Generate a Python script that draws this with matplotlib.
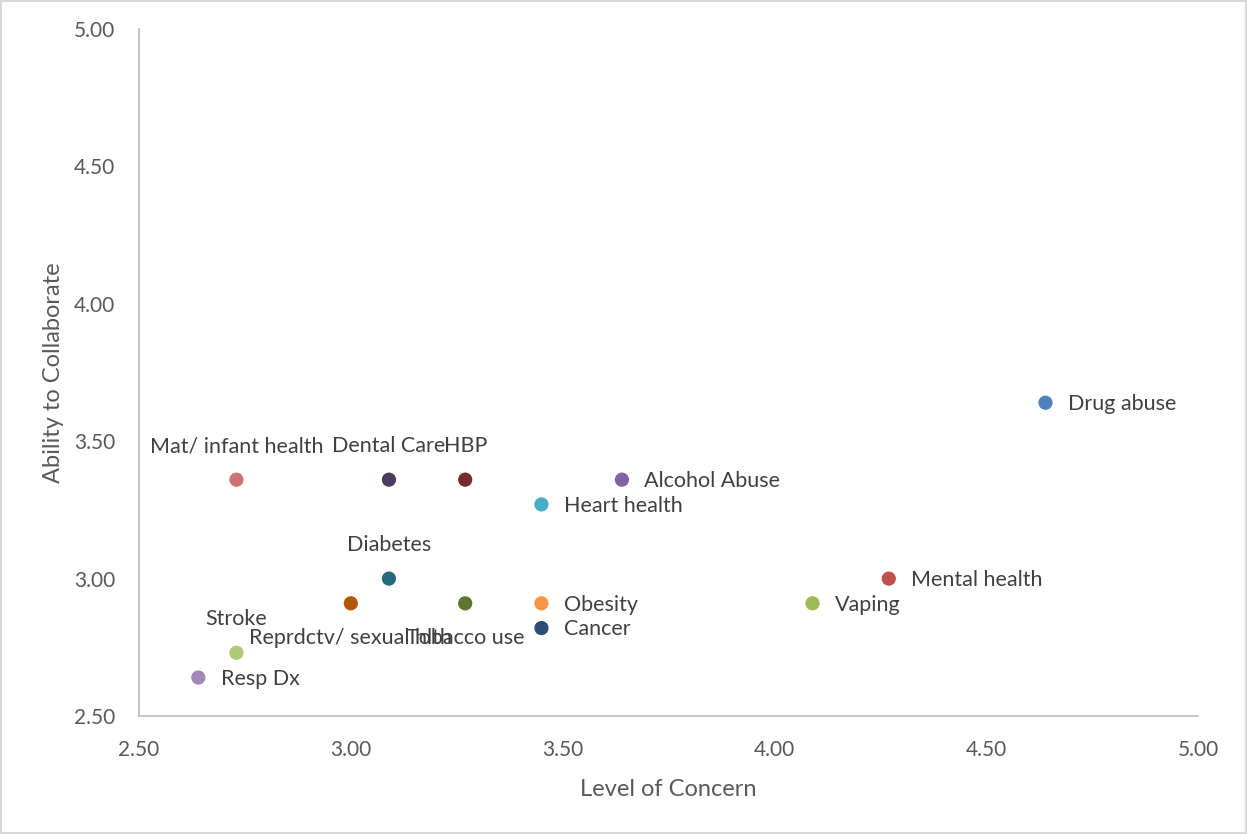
import matplotlib.pyplot as plt
from matplotlib.patches import Rectangle

# Survey results: level of concern vs. ability to collaborate
topics = ["Drug abuse", "Mental health", "Vaping", "Alcohol Abuse", "Heart health",
          "Obesity", "Cancer", "HBP", "Tobacco use", "Dental Care", "Diabetes",
          "Reprdctv/ sexual hlth", "Mat/ infant health", "Stroke", "Resp Dx"]
concern = [4.64, 4.27, 4.09, 3.64, 3.45, 3.45, 3.45, 3.27, 3.27, 3.09, 3.09,
           3.00, 2.73, 2.73, 2.64]
collaborate = [3.64, 3.00, 2.91, 3.36, 3.27, 2.91, 2.82, 3.36, 2.91, 3.36, 3.00,
               2.91, 3.36, 2.73, 2.64]
colors = ["#4F81BD", "#C0504D", "#9BBB59", "#8064A2", "#4BACC6", "#F79646",
          "#2C4D75", "#772C2A", "#5F7530", "#4D3B62", "#276A7C", "#B65708",
          "#CD7371", "#AFC97A", "#9F8AB7"]
label_pos = ["right", "right", "right", "right", "right", "right", "right", "above",
             "below", "above", "above", "below", "above", "above", "right"]

plt.rcParams['font.family'] = ['Lato', 'DejaVu Sans']

fig = plt.figure(figsize=(12.47, 8.34), dpi=100)
ax = fig.add_axes([0.1115, 0.1415, 0.8492, 0.8237])

for x, y, c in zip(concern, collaborate, colors):
    ax.scatter(x, y, s=105, color=c, edgecolors='none', zorder=3)

offsets = {"right": (16, -1, 'left'), "above": (0, 24, 'center'), "below": (0, -25, 'center')}
for name, x, y, pos in zip(topics, concern, collaborate, label_pos):
    dx, dy, ha = offsets[pos]
    ax.annotate(name, (x, y), xytext=(dx, dy), textcoords='offset points',
                ha=ha, va='center', fontsize=15.5, color='#404040')

ax.set_xlim(2.5, 5.0)
ax.set_ylim(2.5, 5.0)
ticks = [2.5, 3.0, 3.5, 4.0, 4.5, 5.0]
ax.set_xticks(ticks)
ax.set_yticks(ticks)
ax.set_xticklabels([f"{t:.2f}" for t in ticks])
ax.set_yticklabels([f"{t:.2f}" for t in ticks])
ax.tick_params(length=0, labelsize=15, colors='#595959')
ax.tick_params(axis='x', pad=17)
ax.tick_params(axis='y', pad=17)

for side in ['top', 'right']:
    ax.spines[side].set_visible(False)
for side in ['left', 'bottom']:
    ax.spines[side].set_color('#BFBFBF')
    ax.spines[side].set_linewidth(1.3)

ax.set_xlabel("Level of Concern", fontsize=17, color='#595959', labelpad=14)
ax.set_ylabel("Ability to Collaborate", fontsize=17, color='#595959', labelpad=7)

# light frame around the whole chart area
fig.patches.append(Rectangle((0.001, 0.001), 0.998, 0.998, transform=fig.transFigure,
                             fill=False, edgecolor='#D9D9D9', linewidth=1.5))

fig.savefig("out.png", dpi=100)
